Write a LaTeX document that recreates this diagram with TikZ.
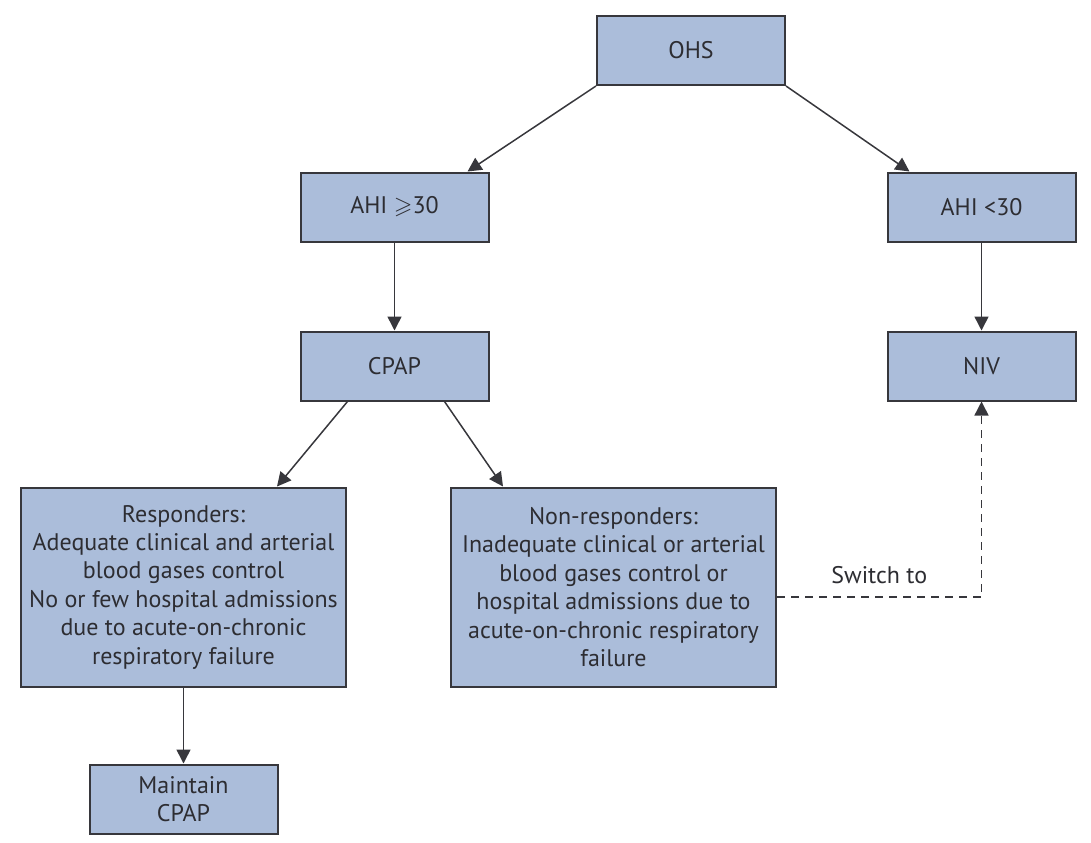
\documentclass[tikz,border=0pt]{standalone}
\usepackage{amsmath, amssymb}
\usepackage{fontspec}
\setmainfont{PT Sans}
\usepackage{xcolor}
\usetikzlibrary{arrows.meta, positioning}

\definecolor{boxblue}{RGB}{171,189,218}
\definecolor{boxline}{RGB}{55,55,60}
\definecolor{inkgray}{RGB}{45,45,50}

\begin{document}
\begin{tikzpicture}[
  x=0.5pt, y=-0.5pt,
  node distance=44pt,
  box/.style={draw=boxline, line width=1pt, fill=boxblue, text=inkgray,
              minimum width=94pt, minimum height=34.5pt, inner sep=0pt,
              font=\fontsize{12}{14.2}\selectfont},
  bigbox/.style={box, minimum width=162.5pt, minimum height=99.5pt, align=center},
  arr/.style={-{Triangle[length=7pt, width=7pt]}, line width=0.75pt, draw=boxline}
]
  \useasboundingbox (0,0) rectangle (1091,842);

  \node[box] (ohs)  at (691,50.5) {OHS};
  \node[box] (ahiA) at (394.5,207) {AHI $\geqslant$30};
  \node[box] (ahiB) at (981.5,207) {AHI <30};
  \node[box, below=of ahiA] (cpap) {CPAP};
  \node[box, below=of ahiB] (niv)  {NIV};

  \node[bigbox] (resp) at (183.5,587) {Responders:\\ Adequate clinical and arterial\\ blood gases control\\
    No or few hospital admissions\\ due to acute-on-chronic\\ respiratory failure};
  \node[bigbox, right=51.5pt of resp] (nonresp) {Non-responders:\\ Inadequate clinical or arterial\\
    blood gases control or\\ hospital admissions due to\\ acute-on-chronic respiratory\\ failure};
  \node[box, below=38pt of resp, align=center] (keep) {Maintain\\ CPAP};

  \draw[arr] (ohs.south west) -- ([xshift=-11pt]ahiA.north east);
  \draw[arr] (ohs.south east) -- ([xshift=11.5pt]ahiB.north west);
  \draw[arr] (ahiA) -- (cpap);
  \draw[arr] (ahiB) -- (niv);
  \draw[arr] ([xshift=24pt]cpap.south west) -- ([xshift=-35pt]resp.north east);
  \draw[arr] ([xshift=-22.5pt]cpap.south east) -- ([xshift=26.5pt]nonresp.north west);
  \draw[arr] (resp) -- (keep);
  \draw[arr, dashed, dash pattern=on 4pt off 3pt] ([yshift=-5pt]nonresp.east) -| node[pos=0.25, above=3pt,
    text=inkgray, font=\fontsize{12}{14.2}\selectfont] {Switch to} (niv.south);
\end{tikzpicture}
\end{document}
